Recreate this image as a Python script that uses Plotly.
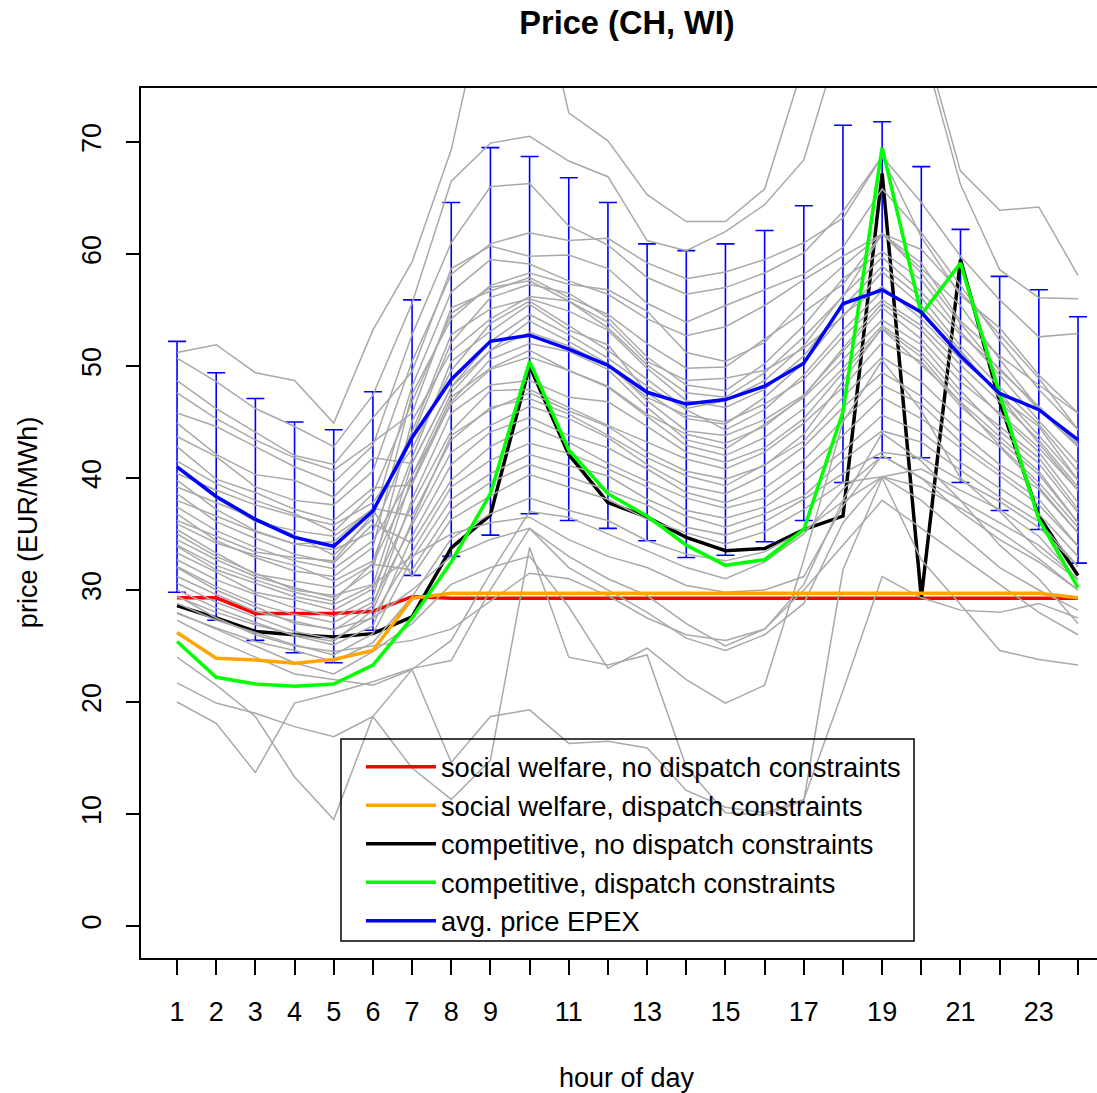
import plotly.graph_objects as go

hours = list(range(1, 25))
hour_tick_labels = ['1', '2', '3', '4', '5', '6', '7', '8', '9', '', '11', '',
                    '13', '', '15', '', '17', '', '19', '', '21', '', '23', '']
price_ticks = [0, 10, 20, 30, 40, 50, 60, 70]

# model results (EUR/MWh)
social_no_dispatch = [29.3, 29.3, 27.9, 27.9, 27.9, 28.1, 29.4, 29.25, 29.25, 29.25, 29.25, 29.25,
                      29.25, 29.25, 29.25, 29.25, 29.25, 29.25, 29.25, 29.25, 29.25, 29.25, 29.25, 29.25]
social_dispatch = [26.2, 23.9, 23.75, 23.45, 23.8, 24.6, 29.25, 29.7, 29.7, 29.7, 29.7, 29.7,
                   29.7, 29.7, 29.7, 29.7, 29.7, 29.7, 29.7, 29.7, 29.7, 29.7, 29.7, 29.3]
comp_no_dispatch = [28.6, 27.5, 26.3, 26.0, 25.8, 26.1, 27.6, 33.75, 36.7, 50.0, 42.1, 37.8,
                    36.5, 34.7, 33.5, 33.7, 35.4, 36.6, 67.2, 29.3, 59.5, 46.8, 36.6, 31.3]
comp_dispatch = [25.4, 22.2, 21.6, 21.4, 21.6, 23.3, 27.5, 32.5, 38.6, 50.4, 42.5, 38.6,
                 36.6, 34.0, 32.2, 32.7, 35.4, 45.9, 69.5, 54.6, 59.2, 47.5, 36.3, 30.2]

# EPEX average price and spread shown by the error bars
epex_avg = [41.0, 38.35, 36.3, 34.7, 33.9, 37.05, 43.6, 48.8, 52.2, 52.75, 51.5, 50.05,
            47.65, 46.6, 47.0, 48.2, 50.25, 55.55, 56.8, 54.8, 50.9, 47.55, 46.1, 43.4]
epex_spread = [11.2, 11.05, 10.8, 10.3, 10.4, 10.65, 12.3, 15.8, 17.3, 15.95, 15.3, 14.55,
               13.25, 13.7, 13.9, 13.9, 14.05, 15.95, 15.0, 13.0, 11.3, 10.45, 10.7, 11.0]

# daily EPEX prices (grey lines)
day_01 = [51.2, 51.9, 49.4, 48.7, 44.9, 53.2, 59.3, 69.3, 85.0, 88.0, 72.6, 70.1, 65.3, 62.9, 62.9, 65.8, 77.0, 84.0, 86.0, 80.0, 67.4, 63.9, 64.2, 58.1]
day_02 = [50.7, 48.6, 46.2, 44.6, 42.8, 47.4, 55.6, 66.5, 69.9, 70.5, 68.3, 66.9, 61.2, 60.3, 62.0, 64.4, 68.4, 80.0, 85.0, 79.0, 66.2, 58.6, 56.1, 56.0]
day_03 = [48.7, 46.2, 44.1, 42.0, 41.2, 45.3, 49.5, 58.7, 60.7, 59.8, 59.9, 58.7, 55.6, 53.9, 55.4, 56.8, 58.2, 60.6, 65.8, 61.9, 57.2, 52.3, 47.9, 44.3]
day_04 = [47.6, 45.3, 43.4, 41.8, 40.7, 43.2, 45.8, 55.2, 56.7, 57.9, 56.1, 54.6, 52.0, 49.8, 49.9, 52.4, 54.8, 57.3, 61.8, 60.4, 56.6, 52.8, 48.9, 44.3]
day_05 = [45.8, 44.6, 42.8, 41.0, 39.6, 42.9, 52.8, 61.0, 66.0, 66.3, 62.5, 60.8, 57.9, 56.4, 57.0, 58.3, 60.1, 63.8, 68.7, 64.6, 59.8, 55.9, 52.6, 52.9]
day_06 = [44.9, 42.1, 40.3, 39.8, 38.3, 41.8, 41.3, 48.1, 52.2, 54.6, 52.8, 50.7, 48.2, 46.1, 44.3, 46.1, 49.2, 53.2, 56.7, 54.8, 51.2, 47.3, 43.1, 38.9]
day_07 = [43.7, 41.9, 39.2, 38.0, 37.6, 40.6, 50.4, 58.2, 60.9, 61.9, 61.2, 61.4, 59.2, 57.8, 58.4, 59.5, 61.0, 63.2, 68.7, 61.5, 56.3, 53.4, 49.2, 45.8]
day_08 = [42.8, 39.9, 38.7, 37.2, 36.2, 39.1, 39.4, 46.8, 50.6, 52.0, 51.3, 49.7, 46.3, 43.4, 42.6, 44.8, 47.2, 50.6, 54.1, 51.9, 47.8, 44.2, 41.3, 36.9]
day_09 = [40.4, 38.9, 37.6, 36.6, 35.8, 37.8, 42.6, 49.6, 53.8, 55.8, 53.6, 51.4, 48.8, 46.2, 46.9, 48.7, 51.8, 56.3, 59.7, 56.6, 52.8, 49.8, 46.1, 42.8]
day_10 = [39.8, 37.2, 35.3, 34.1, 34.3, 37.3, 36.6, 43.4, 46.3, 47.1, 45.7, 43.8, 41.8, 40.2, 39.3, 41.2, 43.3, 47.2, 50.8, 48.6, 45.2, 42.8, 39.2, 35.1]
day_11 = [39.2, 37.8, 36.4, 34.9, 33.1, 36.4, 48.2, 56.6, 59.5, 59.1, 57.6, 56.4, 54.2, 52.7, 53.5, 55.4, 57.7, 59.8, 61.8, 58.7, 55.4, 50.6, 46.2, 42.8]
day_12 = [38.6, 36.1, 34.6, 33.2, 32.4, 35.9, 34.2, 39.8, 42.8, 44.6, 43.2, 41.3, 39.7, 38.2, 37.3, 38.2, 40.7, 43.8, 47.2, 45.3, 42.7, 40.2, 37.6, 33.9]
day_13 = [38.0, 36.6, 35.2, 34.1, 33.6, 35.2, 43.6, 52.1, 56.1, 57.3, 56.5, 54.3, 50.8, 48.3, 47.8, 50.2, 53.6, 57.8, 60.2, 57.7, 53.1, 49.2, 45.1, 41.3]
day_14 = [37.4, 35.3, 33.8, 32.6, 31.9, 34.4, 40.2, 47.6, 51.4, 54.0, 52.2, 50.2, 46.9, 44.2, 43.8, 45.2, 47.4, 51.3, 55.2, 52.4, 48.6, 45.8, 42.7, 38.9]
day_15 = [36.8, 34.4, 32.9, 31.7, 31.2, 33.8, 47.5, 54.2, 57.2, 58.3, 57.3, 56.8, 54.9, 51.2, 50.4, 52.1, 55.8, 58.9, 61.8, 59.2, 54.0, 50.9, 48.3, 45.8]
day_16 = [35.9, 34.2, 33.1, 32.2, 30.8, 32.6, 41.8, 50.4, 53.1, 55.5, 53.2, 51.9, 47.6, 45.3, 44.8, 47.2, 50.3, 54.6, 57.1, 54.2, 50.6, 47.6, 43.8, 39.8]
day_17 = [35.4, 33.3, 31.4, 30.8, 30.2, 32.3, 31.8, 37.2, 39.6, 41.2, 40.1, 38.9, 37.6, 35.6, 34.9, 36.1, 38.1, 40.4, 42.3, 41.8, 39.8, 37.9, 35.6, 32.1]
day_18 = [34.5, 32.7, 31.2, 30.2, 29.3, 31.8, 45.1, 51.3, 54.2, 56.2, 55.8, 53.9, 50.4, 48.7, 48.9, 49.6, 51.6, 54.4, 58.4, 55.4, 51.4, 47.2, 44.6, 39.8]
day_19 = [33.9, 31.8, 30.6, 29.4, 28.7, 30.4, 41.3, 48.1, 51.4, 53.0, 51.8, 50.0, 47.2, 45.6, 45.0, 46.6, 48.8, 52.6, 55.9, 53.6, 50.1, 46.8, 43.4, 39.2]
day_20 = [33.3, 31.6, 29.8, 29.1, 28.2, 30.1, 37.6, 44.2, 47.8, 47.9, 46.3, 44.7, 43.2, 41.7, 40.8, 42.3, 44.9, 48.1, 52.1, 50.4, 46.4, 43.3, 40.3, 36.0]
day_21 = [32.7, 30.9, 29.6, 28.4, 27.6, 29.4, 40.2, 46.6, 49.7, 50.8, 49.6, 48.1, 45.5, 42.9, 42.0, 43.6, 46.2, 49.8, 53.6, 51.2, 47.3, 44.6, 41.8, 37.2]
day_22 = [32.1, 30.3, 28.8, 27.8, 27.1, 28.9, 35.8, 42.3, 44.7, 46.4, 45.3, 43.6, 41.2, 39.3, 38.6, 40.3, 42.8, 46.3, 49.4, 47.3, 44.1, 41.2, 39.0, 35.1]
day_23 = [31.2, 29.6, 28.1, 27.2, 26.4, 28.6, 38.1, 45.8, 48.3, 48.7, 47.2, 46.8, 44.6, 42.3, 41.4, 42.7, 45.3, 49.4, 53.3, 50.1, 46.8, 43.7, 40.6, 36.0]
day_24 = [30.6, 28.9, 27.6, 26.3, 25.6, 27.6, 33.4, 39.2, 41.6, 43.1, 42.2, 40.8, 39.2, 37.1, 36.4, 37.4, 39.7, 42.4, 45.6, 44.1, 41.4, 39.1, 36.8, 33.0]
day_25 = [30.0, 28.4, 27.1, 25.9, 25.1, 26.8, 34.8, 41.2, 44.1, 45.4, 43.8, 42.7, 40.8, 38.7, 37.8, 39.1, 41.6, 45.2, 48.3, 46.6, 43.2, 40.6, 38.1, 33.9]
day_26 = [28.8, 27.3, 26.2, 25.1, 24.2, 26.1, 32.8, 38.1, 40.4, 42.1, 41.1, 40.2, 38.1, 36.6, 35.6, 36.8, 38.4, 41.6, 44.2, 43.2, 40.7, 38.3, 36.1, 32.1]
day_27 = [27.9, 26.6, 25.4, 24.6, 23.6, 25.3, 29.4, 34.6, 36.8, 38.2, 37.1, 36.2, 34.4, 33.2, 32.6, 33.4, 35.3, 37.9, 40.1, 39.2, 37.3, 35.2, 32.8, 30.0]
day_28 = [41.5, 39.5, 38.0, 36.8, 35.2, 38.6, 46.8, 54.7, 57.0, 57.6, 55.8, 53.4, 50.1, 47.6, 47.2, 49.4, 52.6, 56.2, 61.8, 58.3, 53.8, 49.6, 46.4, 43.0]
day_29 = [36.2, 34.8, 33.4, 32.9, 32.6, 36.8, 44.1, 52.8, 55.1, 56.0, 54.9, 53.2, 49.8, 46.9, 46.3, 47.9, 50.9, 55.3, 58.9, 56.1, 51.8, 48.1, 44.8, 40.6]
day_30 = [34.0, 32.2, 30.9, 29.8, 29.0, 32.4, 39.6, 47.2, 49.8, 51.4, 49.6, 48.2, 45.7, 43.9, 43.1, 44.6, 47.3, 51.6, 55.6, 53.2, 49.3, 45.6, 42.3, 37.8]
day_31 = [29.4, 28.0, 26.9, 26.0, 25.4, 28.2, 36.1, 43.8, 46.1, 47.6, 46.0, 44.6, 42.3, 40.6, 39.9, 41.1, 43.9, 48.7, 53.4, 50.8, 46.7, 42.9, 39.6, 35.6]
day_32 = [40.9, 38.2, 36.1, 35.3, 34.8, 37.2, 31.2, 36.3, 38.4, 40.3, 39.2, 38.1, 36.3, 35.1, 34.1, 35.2, 37.2, 39.6, 40.1, 40.8, 38.9, 37.2, 34.8, 30.9]
day_33 = [20.0, 18.1, 13.7, 19.9, 20.8, 21.8, 23.0, 23.7, 30.0, 35.5, 33.0, 31.0, 29.5, 27.0, 25.0, 26.5, 30.0, 34.0, 38.0, 35.5, 33.0, 30.5, 28.0, 26.0]
day_34 = [21.7, 19.9, 19.0, 17.8, 16.9, 18.7, 14.1, 11.3, 14.8, 33.8, 24.0, 23.3, 24.2, 14.2, 10.1, 9.9, 11.2, 31.8, 40.0, 32.7, 28.7, 24.6, 23.8, 23.3]
day_35 = [24.0, 21.5, 18.7, 13.3, 9.5, 18.7, 22.9, 25.5, 31.5, 37.0, 36.5, 35.0, 33.5, 32.0, 31.0, 32.5, 35.0, 39.0, 42.0, 40.0, 38.0, 36.0, 34.0, 31.0]
day_36 = [27.3, 25.5, 24.0, 22.5, 22.0, 21.5, 22.9, 14.6, 18.7, 19.3, 16.3, 16.5, 15.9, 12.1, 10.6, 10.1, 11.3, 21.0, 31.2, 29.3, 28.2, 28.0, 28.8, 27.5]
day_37 = [28.0, 26.5, 25.0, 23.5, 22.5, 24.5, 27.0, 30.5, 32.0, 33.0, 28.5, 23.0, 24.8, 22.0, 19.9, 21.5, 32.7, 45.0, 50.5, 46.0, 40.0, 37.0, 33.5, 30.9]
day_38 = [32.0, 30.0, 28.5, 27.0, 26.5, 27.5, 30.0, 33.0, 34.5, 35.5, 32.0, 30.0, 28.0, 25.7, 24.6, 26.0, 28.8, 36.0, 40.1, 38.0, 35.0, 32.0, 30.0, 28.2]
day_39 = [35.0, 33.0, 31.5, 30.0, 29.5, 30.5, 33.0, 35.0, 36.0, 36.5, 34.5, 33.0, 32.0, 30.4, 29.8, 30.0, 31.2, 37.5, 42.0, 40.0, 37.0, 34.5, 32.5, 30.0]
day_40 = [29.5, 27.5, 26.0, 25.0, 24.5, 25.0, 25.5, 26.5, 29.0, 31.5, 31.0, 29.5, 27.5, 26.0, 25.5, 26.5, 30.5, 38.0, 44.0, 41.5, 38.0, 34.0, 31.0, 27.0]

grey_days = [day_01, day_02, day_03, day_04, day_05, day_06, day_07, day_08, day_09, day_10,
             day_11, day_12, day_13, day_14, day_15, day_16, day_17, day_18, day_19, day_20,
             day_21, day_22, day_23, day_24, day_25, day_26, day_27, day_28, day_29, day_30,
             day_31, day_32, day_33, day_34, day_35, day_36, day_37, day_38, day_39, day_40]

FONT = "Liberation Sans, Arial, Helvetica, sans-serif"
LW = 3.5

fig = go.Figure()

# error bars of EPEX average
fig.add_trace(go.Scatter(
    x=hours, y=epex_avg, mode='markers',
    marker=dict(size=1, color='rgba(0,0,0,0)'),
    error_y=dict(type='data', array=epex_spread, visible=True,
                 color='#0000FF', thickness=1.6, width=9),
    showlegend=False, hoverinfo='skip'))

fig.add_trace(go.Scatter(x=hours, y=social_no_dispatch, mode='lines',
                         line=dict(color='#FF0000', width=LW),
                         name='social welfare, no dispatch constraints', legendrank=1))
fig.add_trace(go.Scatter(x=hours, y=comp_no_dispatch, mode='lines',
                         line=dict(color='#000000', width=LW),
                         name='competitive, no dispatch constraints', legendrank=3))

for d in grey_days:
    fig.add_trace(go.Scatter(x=hours, y=d, mode='lines',
                             line=dict(color='#A9A9A9', width=1.5),
                             showlegend=False, hoverinfo='skip'))

fig.add_trace(go.Scatter(x=hours, y=social_dispatch, mode='lines',
                         line=dict(color='#FFA500', width=LW),
                         name='social welfare, dispatch constraints', legendrank=2))
fig.add_trace(go.Scatter(x=hours, y=comp_dispatch, mode='lines',
                         line=dict(color='#00FF00', width=LW),
                         name='competitive, dispatch constraints', legendrank=4))
fig.add_trace(go.Scatter(x=hours, y=epex_avg, mode='lines',
                         line=dict(color='#0000FF', width=LW),
                         name='avg. price EPEX', legendrank=5))

fig.update_layout(
    width=1097, height=1093,
    margin=dict(l=141, r=0, t=88, b=135),
    paper_bgcolor='white', plot_bgcolor='white',
    font=dict(family=FONT, size=27, color='black'),
    title=dict(text='<b>Price (CH, WI)</b>', x=627 / 1097, xanchor='center',
               y=1 - 23 / 1093, yanchor='middle', yref='container',
               font=dict(size=32.6, family=FONT, color='black')),
    showlegend=True,
    legend=dict(x=0.2301, y=0.2477, xanchor='left', yanchor='top',
                bgcolor='rgba(0,0,0,0)', borderwidth=0,
                font=dict(size=27.3, family=FONT), itemwidth=70,
                tracegroupgap=0),
    shapes=[dict(type='rect', xref='paper', yref='paper',
                 x0=0.2092, x1=0.8086, y0=0.01954, y1=0.2517,
                 line=dict(color='black', width=1.5), fillcolor='rgba(0,0,0,0)',
                 layer='above')],
    xaxis=dict(range=[0.08, 24.485], tickmode='array', tickvals=hours,
               ticktext=hour_tick_labels, ticks='outside', ticklen=15,
               tickwidth=1.5, tickcolor='black', showline=True, linecolor='black',
               linewidth=1.5, mirror=True, showgrid=False, zeroline=False,
               ticklabelstandoff=14, tickfont=dict(size=27)),
    yaxis=dict(range=[-2.86, 74.82], tickmode='array', tickvals=price_ticks,
               ticks='outside', ticklen=13, tickwidth=1.5, tickcolor='black',
               showline=True, linecolor='black', linewidth=1.5, mirror=False,
               showgrid=False, zeroline=False, tickangle=-90,
               ticklabelstandoff=14, tickfont=dict(size=27)),
    annotations=[
        dict(text='hour of day', xref='paper', yref='paper', x=0.5084, y=-0.1379,
             xanchor='center', yanchor='middle', showarrow=False,
             font=dict(size=27, family=FONT)),
        dict(text='price (EUR/MWh)', xref='paper', yref='paper', x=-0.1182, y=0.501,
             xanchor='center', yanchor='middle', showarrow=False, textangle=-90,
             font=dict(size=27, family=FONT)),
    ],
)

fig.write_html('out.html')
